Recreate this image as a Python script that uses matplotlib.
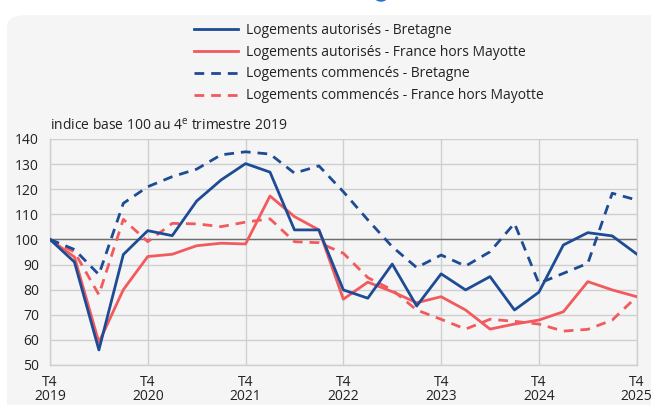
import matplotlib
matplotlib.use('Agg')
import matplotlib.pyplot as plt
from matplotlib.patches import FancyBboxPatch, Circle

plt.rcParams['font.family'] = ['Open Sans', 'DejaVu Sans']
plt.rcParams['mathtext.fontset'] = 'custom'
plt.rcParams['mathtext.rm'] = 'Open Sans'

# ── Data (index base 100 au T4 2019, quarterly) ──
quarters = list(range(25))  # T4 2019 ... T4 2025
year_ticks = [0, 4, 8, 12, 16, 20, 24]
year_labels = ['T4\n2019', 'T4\n2020', 'T4\n2021', 'T4\n2022', 'T4\n2023', 'T4\n2024', 'T4\n2025']

aut_bretagne = [100, 91, 56, 94, 103.5, 101.5, 115.3, 123.7, 130.2, 126.8, 103.8, 103.8,
                79.9, 76.6, 90.2, 73.5, 86.3, 79.9, 85.2, 71.9, 79.0, 97.8, 102.7, 101.4, 94.2]
aut_france = [100, 93, 59, 80, 93.2, 94.1, 97.5, 98.5, 98.2, 117.3, 109.1, 103.8,
              76.2, 83.0, 79.2, 74.8, 77.2, 71.9, 64.3, 66.3, 67.9, 71.2, 83.2, 79.9, 77.2]
com_bretagne = [100, 96, 86, 114.4, 121, 125, 128, 133.7, 134.9, 134, 126.4, 129.3,
                119, 107.8, 97.1, 88.8, 93.8, 89.4, 95.1, 106.4, 82.5, 86.5, 90.5, 118.4, 115.7]
com_france = [100, 95, 78, 108, 99.1, 106.4, 106.2, 105.1, 106.9, 108.2, 99.1, 98.7,
              94.5, 84.8, 79.9, 71.9, 68.2, 64.3, 68.2, 67.4, 66.3, 63.5, 64.2, 67.9, 77.2]

BLUE = '#1d4b94'
RED = '#f25a5d'
BG = '#f5f5f5'
GRID = '#cfcfcf'

fig = plt.figure(figsize=(6.51, 4.05), dpi=100)
fig.patch.set_facecolor('white')

# rounded light panel behind everything
panel = FancyBboxPatch((7 / 651, -0.1), 1.2, 1.08 - 7 / 405,
                       boxstyle='round,pad=0,rounding_size=0.03',
                       transform=fig.transFigure, facecolor=BG, edgecolor='none', zorder=-10)
fig.patches.append(panel)
fig.patches.append(Circle((381 / 651, 1.0 + 2 / 405), 6 / 651, transform=fig.transFigure,
                          facecolor='#2a6fd6', edgecolor='none', zorder=-9))

ax = fig.add_axes([50 / 651, 40 / 405, 586.7 / 651, 226 / 405])
ax.set_zorder(2)
ax.set_facecolor(BG)

dash = (3.5, 2.5)
l1, = ax.plot(quarters, aut_bretagne, color=BLUE, lw=2.0, label='Logements autorisés - Bretagne', zorder=4)
l2, = ax.plot(quarters, aut_france, color=RED, lw=2.0, label='Logements autorisés - France hors Mayotte', zorder=3)
l3, = ax.plot(quarters, com_bretagne, color=BLUE, lw=2.0, dashes=dash, label='Logements commencés - Bretagne', zorder=4)
l4, = ax.plot(quarters, com_france, color=RED, lw=2.0, dashes=dash, label='Logements commencés - France hors Mayotte', zorder=3)

ax.set_xlim(0, 24)
ax.set_ylim(50, 140)
ax.set_yticks(range(50, 141, 10))
ax.set_xticks(year_ticks)
ax.set_xticklabels(year_labels, linespacing=0.95)
ax.tick_params(axis='both', length=0, labelsize=10, colors='#222222')
ax.tick_params(axis='x', pad=7)
ax.tick_params(axis='y', pad=8)

ax.grid(True, color=GRID, lw=1.0, zorder=0)
ax.set_axisbelow(True)
ax.axhline(100, color='#6e6e6e', lw=1.0, zorder=1)
for side in ['left', 'bottom', 'right']:
    ax.spines[side].set_color(GRID)
    ax.spines[side].set_linewidth(1.0)
ax.spines['top'].set_visible(False)

fig.legend(handles=[l1, l2, l3, l4], loc='upper left', bbox_to_anchor=(188 / 651, 1 - 17 / 405),
           frameon=False, fontsize=10, handlelength=3.2, handletextpad=0.6,
           labelspacing=0.5, borderaxespad=0, labelcolor='#222222')

fig.text(50 / 651, 1 - 126 / 405, r'indice base 100 au 4$^{\mathrm{e}}$ trimestre 2019',
         fontsize=10, color='#222222', va='center', ha='left')

fig.savefig('out.png', dpi=100)
